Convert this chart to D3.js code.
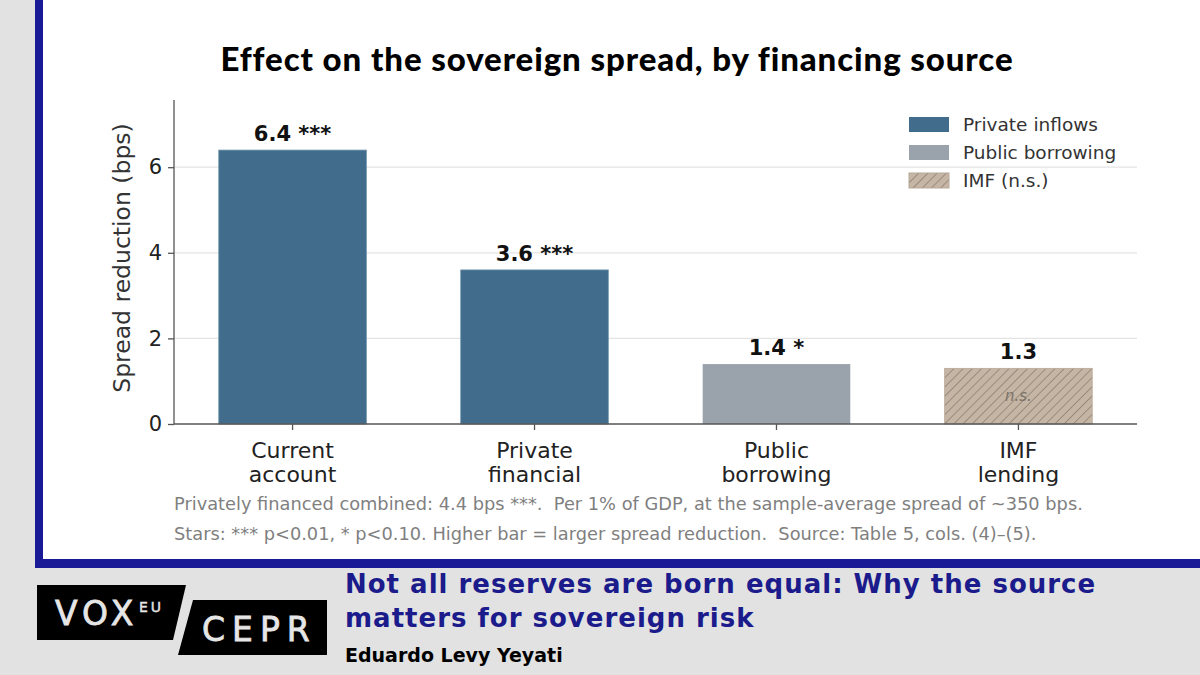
<!DOCTYPE html>
<html>
<head>
<meta charset="utf-8">
<script src="https://cdn.jsdelivr.net/npm/d3@7"></script>
<style>
  body { margin: 0; background: #e2e2e2; }
  svg { display: block; }
</style>
</head>
<body>
<div id="chart"></div>
<script>
// chart data
var categories = ["Current account", "Private financial", "Public borrowing", "IMF lending"];
var catLines = [["Current", "account"], ["Private", "financial"], ["Public", "borrowing"], ["IMF", "lending"]];
var values = [6.4, 3.6, 1.4, 1.3];
var stars = ["***", "***", "*", ""];
var groups = ["private", "private", "public", "imf"];
var yTicks = [0, 2, 4, 6];
var legendLabels = ["Private inflows", "Public borrowing", "IMF (n.s.)"];
var legendGroups = ["private", "public", "imf"];
var notes = [
  "Privately financed combined: 4.4 bps ***.  Per 1% of GDP, at the sample-average spread of ~350 bps.",
  "Stars: *** p<0.01, * p<0.10. Higher bar = larger spread reduction.  Source: Table 5, cols. (4)\u2013(5)."
];

var svgWidth = 1200;
var svgHeight = 675;

var colors = { private: "#416c8b", public: "#9aa3ac", imf: "#c4b5a5" };

var svg = d3.select("#chart")
  .append("svg")
  .attr("width", svgWidth)
  .attr("height", svgHeight);

var defs = svg.append("defs");
var hatch = defs.append("pattern")
  .attr("id", "hatch")
  .attr("patternUnits", "userSpaceOnUse")
  .attr("width", 6.5)
  .attr("height", 6.5)
  .attr("patternTransform", "rotate(45)");
hatch.append("rect").attr("width", 6.5).attr("height", 6.5).attr("fill", colors.imf);
hatch.append("line")
  .attr("x1", 0).attr("y1", 0).attr("x2", 0).attr("y2", 6.5)
  .attr("stroke", "#908171").attr("stroke-width", 1.6);

// white panel with blue frame (left + bottom)
svg.append("rect").attr("x", 35).attr("y", 0).attr("width", 1165).attr("height", 568).attr("fill", "#1a1a96");
svg.append("rect").attr("x", 43).attr("y", 0).attr("width", 1157).attr("height", 559).attr("fill", "#ffffff");

// title
svg.append("text")
  .attr("x", 617)
  .attr("y", 71)
  .attr("text-anchor", "middle")
  .style("font-family", "Lato")
  .style("font-weight", 900)
  .style("font-size", "33px")
  .style("letter-spacing", "0.9px")
  .attr("fill", "#000")
  .text("Effect on the sovereign spread, by financing source");

var margin = { left: 174, right: 63, top: 100, bottom: 251 };
var plotW = svgWidth - margin.left - margin.right;
var plotH = svgHeight - margin.top - margin.bottom;

var chartGroup = svg.append("g")
  .attr("transform", `translate(${margin.left}, ${margin.top})`);

var x = d3.scaleBand()
  .domain(categories)
  .range([0, plotW])
  .paddingInner(0.39)
  .paddingOuter(0.185);

var y = d3.scaleLinear()
  .domain([0, 7.57])
  .range([plotH, 0]);

// gridlines
chartGroup.selectAll(".grid")
  .data(yTicks.filter(d => d > 0))
  .enter()
  .append("line")
  .attr("x1", 0)
  .attr("x2", plotW)
  .attr("y1", d => y(d))
  .attr("y2", d => y(d))
  .attr("stroke", "#e4e4e4")
  .attr("stroke-width", 1.2);

// bars
chartGroup.selectAll(".bar")
  .data(values)
  .enter()
  .append("rect")
  .attr("x", (d, i) => x(categories[i]))
  .attr("y", d => y(d))
  .attr("width", x.bandwidth())
  .attr("height", d => plotH - y(d))
  .attr("fill", (d, i) => groups[i] === "imf" ? "url(#hatch)" : colors[groups[i]])
  .attr("stroke", (d, i) => groups[i] === "imf" ? "#b8a999" : "#6f95b0")
  .attr("stroke-width", (d, i) => groups[i] === "public" ? 0 : 0.8);

// value labels
chartGroup.selectAll(".val")
  .data(values)
  .enter()
  .append("text")
  .attr("x", (d, i) => x(categories[i]) + x.bandwidth() / 2)
  .attr("y", d => y(d) - 9)
  .attr("text-anchor", "middle")
  .style("font-family", "DejaVu Sans")
  .style("font-weight", "bold")
  .style("font-size", "21px")
  .attr("fill", "#111")
  .text((d, i) => d.toFixed(1) + (stars[i] ? " " + stars[i] : ""));

// n.s. marker inside IMF bar
chartGroup.append("text")
  .attr("x", x("IMF lending") + x.bandwidth() / 2)
  .attr("y", y(values[3] / 2) + 5)
  .attr("text-anchor", "middle")
  .style("font-family", "DejaVu Sans")
  .style("font-style", "italic")
  .style("font-size", "15px")
  .attr("fill", "#7d7267")
  .text("n.s.");

// axes
var leftAxis = d3.axisLeft(y).tickValues(yTicks).tickSize(6).tickPadding(6).tickFormat(d3.format("d"));
var bottomAxis = d3.axisBottom(x).tickSize(6).tickFormat("");

var yAxis = chartGroup.append("g").call(leftAxis);
yAxis.select(".domain").attr("stroke", "#555").attr("stroke-width", 1.3).attr("d", `M0,0V${plotH}`);
yAxis.selectAll(".tick line").attr("stroke", "#555").attr("stroke-width", 1.3);
yAxis.selectAll(".tick text")
  .style("font-family", "DejaVu Sans")
  .style("font-size", "21px")
  .attr("fill", "#222");

var xAxis = chartGroup.append("g")
  .attr("transform", `translate(0, ${plotH})`)
  .call(bottomAxis);
xAxis.select(".domain").attr("stroke", "#555").attr("stroke-width", 1.3).attr("d", `M0,0H${plotW}`);
xAxis.selectAll(".tick line").attr("stroke", "#555").attr("stroke-width", 1.3);

// two-line category labels
chartGroup.selectAll(".cat")
  .data(catLines)
  .enter()
  .append("text")
  .attr("x", (d, i) => x(categories[i]) + x.bandwidth() / 2)
  .attr("y", plotH + 34)
  .attr("text-anchor", "middle")
  .style("font-family", "DejaVu Sans")
  .style("font-size", "22px")
  .attr("fill", "#222")
  .selectAll("tspan")
  .data(d => d)
  .enter()
  .append("tspan")
  .attr("x", function() { return d3.select(this.parentNode).attr("x"); })
  .attr("dy", (d, i) => i === 0 ? 0 : 24)
  .text(d => d);

// y-axis label
chartGroup.append("text")
  .attr("transform", "rotate(-90)")
  .attr("x", -(y(0) + y(7.57)) / 2 + 4)
  .attr("y", -44)
  .attr("text-anchor", "middle")
  .style("font-family", "DejaVu Sans")
  .style("font-size", "23.5px")
  .attr("fill", "#333")
  .text("Spread reduction (bps)");

// legend
var legend = chartGroup.append("g")
  .attr("transform", `translate(${909 - margin.left}, ${117 - margin.top})`);
var legendRows = legend.selectAll(".lg")
  .data(legendLabels)
  .enter()
  .append("g")
  .attr("transform", (d, i) => `translate(0, ${i * 28})`);
legendRows.append("rect")
  .attr("width", 40)
  .attr("height", 15)
  .attr("fill", (d, i) => legendGroups[i] === "imf" ? "url(#hatch)" : colors[legendGroups[i]])
  .attr("stroke", (d, i) => legendGroups[i] === "imf" ? "#b8a999" : "none");
legendRows.append("text")
  .attr("x", 54)
  .attr("y", 14)
  .style("font-family", "DejaVu Sans")
  .style("font-size", "18.5px")
  .attr("fill", "#333")
  .text(d => d);

// footnotes
svg.selectAll(".note")
  .data(notes)
  .enter()
  .append("text")
  .attr("x", 174)
  .attr("y", (d, i) => 510 + i * 30)
  .style("font-family", "DejaVu Sans")
  .style("font-size", "17.8px")
  .style("white-space", "pre")
  .attr("fill", "#7f7f7f")
  .text(d => d);

// VoxEU / CEPR logo
svg.append("path").attr("d", "M37,585H186L173,640H37Z").attr("fill", "#000");
svg.append("path").attr("d", "M193,600H327V655H178Z").attr("fill", "#000");
svg.append("text")
  .attr("x", 55).attr("y", 625)
  .style("font-family", "DejaVu Sans")
  .style("font-size", "33px").style("letter-spacing", "5px")
  .attr("fill", "#e6e6e6").attr("stroke", "#e6e6e6").attr("stroke-width", 0.8)
  .text("VOX");
svg.append("text")
  .attr("x", 139).attr("y", 612)
  .style("font-family", "DejaVu Sans")
  .style("font-size", "14px").style("letter-spacing", "3px")
  .attr("fill", "#e6e6e6").attr("stroke", "#e6e6e6").attr("stroke-width", 0.4)
  .text("EU");
svg.append("text")
  .attr("x", 202).attr("y", 641)
  .style("font-family", "DejaVu Sans")
  .style("font-size", "33px").style("letter-spacing", "7px")
  .attr("fill", "#e6e6e6").attr("stroke", "#e6e6e6").attr("stroke-width", 0.8)
  .text("CEPR");

// article title + author
var headLines = ["Not all reserves are born equal: Why the source", "matters for sovereign risk"];
svg.selectAll(".head")
  .data(headLines)
  .enter()
  .append("text")
  .attr("x", 345)
  .attr("y", (d, i) => 593 + i * 34)
  .style("font-family", "DejaVu Sans")
  .style("font-weight", "bold")
  .style("font-size", "26px")
  .style("letter-spacing", "1px")
  .attr("fill", "#1b1b8c")
  .text(d => d);
svg.append("text")
  .attr("x", 345)
  .attr("y", 662)
  .style("font-family", "DejaVu Sans")
  .style("font-weight", "bold")
  .style("font-size", "19px")
  .attr("fill", "#000")
  .text("Eduardo Levy Yeyati");
</script>
</body>
</html>
